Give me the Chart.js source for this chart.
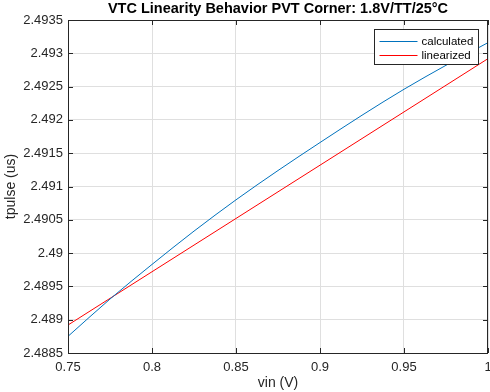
<!DOCTYPE html>
<html>
<head>
<meta charset="utf-8">
<title>VTC Linearity</title>
<script src="https://cdn.jsdelivr.net/npm/chart.js@4.4.1/dist/chart.umd.min.js"></script>
<style>
    html, body { margin: 0; padding: 0; background: #ffffff; }
    #chart { display: block; }
</style>
</head>
<body>
<canvas id="chart" width="490" height="392"></canvas>
<script>
// vin sweep (V) and the resulting pulse width (us)
const vinValues = [0.75, 0.775, 0.8, 0.825, 0.85, 0.875, 0.9, 0.925, 0.95, 0.975, 1.0];
const calculatedValues = [2.48875, 2.48931, 2.48983, 2.49033, 2.49080, 2.49124, 2.49166, 2.49207, 2.49246, 2.49282, 2.49316];
const linearizedValues = [2.48892, 2.48932, 2.48972, 2.49012, 2.49052, 2.49092, 2.49132, 2.49172, 2.49212, 2.49252, 2.49292];
const seriesNames = ['calculated', 'linearized'];
const seriesColors = ['#0072BD', '#FF0000'];

const xTicks = [0.75, 0.8, 0.85, 0.9, 0.95, 1.0];
const yTicks = [2.4885, 2.489, 2.4895, 2.49, 2.4905, 2.491, 2.4915, 2.492, 2.4925, 2.493, 2.4935];

const axisColor = '#262626';
const gridColor = '#dfdfdf';
const fontFamily = '"Liberation Sans", Arial, Helvetica, sans-serif';

function toPoints(xs, ys) {
    return xs.map((x, i) => ({ x: x, y: ys[i] }));
}

// box around the axes with inward ticks on all four sides, then the legend
const matlabFrame = {
    id: 'matlabFrame',
    afterDatasetsDraw(chart) {
        const { ctx, chartArea: a, scales } = chart;
        const len = 5;
        ctx.save();
        ctx.strokeStyle = axisColor;
        ctx.lineWidth = 1;
        ctx.beginPath();
        ctx.rect(Math.round(a.left) + 0.5, Math.round(a.top) + 0.5,
                 Math.round(a.right - a.left) - 1, Math.round(a.bottom - a.top));
        xTicks.forEach(v => {
            const px = Math.round(scales.x.getPixelForValue(v)) + 0.5;
            ctx.moveTo(px, a.bottom); ctx.lineTo(px, a.bottom - len);
            ctx.moveTo(px, a.top); ctx.lineTo(px, a.top + len);
        });
        yTicks.forEach(v => {
            const py = Math.round(scales.y.getPixelForValue(v)) + 0.5;
            ctx.moveTo(a.left, py); ctx.lineTo(a.left + len, py);
            ctx.moveTo(a.right, py); ctx.lineTo(a.right - len, py);
        });
        ctx.stroke();

        // legend box, upper right inside the axes
        const boxW = 104, boxH = 35;
        const bx = Math.round(a.right) - 10 - boxW + 0.5;
        const by = Math.round(a.top) + 9 + 0.5;
        ctx.fillStyle = '#ffffff';
        ctx.fillRect(bx, by, boxW, boxH);
        ctx.strokeStyle = axisColor;
        ctx.strokeRect(bx, by, boxW, boxH);
        ctx.font = '11.5px ' + fontFamily;
        ctx.textBaseline = 'middle';
        ctx.textAlign = 'left';
        chart.data.datasets.forEach((ds, i) => {
            const rowY = Math.round(by + 11 + i * 14.5) + 0.5;
            ctx.strokeStyle = ds.borderColor;
            ctx.beginPath();
            ctx.moveTo(bx + 5, rowY);
            ctx.lineTo(bx + 43, rowY);
            ctx.stroke();
            ctx.fillStyle = '#000000';
            ctx.fillText(ds.label, bx + 47, rowY);
        });
        ctx.restore();
    }
};

const ctx = document.getElementById('chart').getContext('2d');
const chart = new Chart(ctx, {
    type: 'line',
    data: {
        datasets: [
            {
                label: seriesNames[0],
                data: toPoints(vinValues, calculatedValues),
                borderColor: seriesColors[0],
                borderWidth: 1,
                pointRadius: 0,
                cubicInterpolationMode: 'monotone',
                fill: false
            },
            {
                label: seriesNames[1],
                data: toPoints(vinValues, linearizedValues),
                borderColor: seriesColors[1],
                borderWidth: 1,
                pointRadius: 0,
                fill: false
            }
        ]
    },
    options: {
        responsive: false,
        animation: false,
        layout: { padding: { left: 0, right: 2, top: 0, bottom: 0 } },
        plugins: {
            legend: { display: false },
            tooltip: { enabled: false },
            title: { display: false }
        },
        scales: {
            // top axis only carries the title so it centres over the plot area
            top: {
                type: 'linear',
                position: 'top',
                min: 0.75,
                max: 1.0,
                afterFit: scale => {
                    scale.height = 20;
                    scale.paddingLeft = 0;
                    scale.paddingRight = 0;
                },
                grid: { display: false, drawTicks: false },
                border: { display: false },
                ticks: { display: false },
                title: {
                    display: true,
                    text: 'VTC Linearity Behavior PVT Corner: 1.8V/TT/25°C',
                    color: '#000000',
                    font: { family: fontFamily, size: 14.5, weight: 'bold' },
                    padding: { top: 0, bottom: 0 }
                }
            },
            x: {
                type: 'linear',
                min: 0.75,
                max: 1.0,
                afterBuildTicks: scale => { scale.ticks = xTicks.map(v => ({ value: v })); },
                afterFit: scale => {
                    scale.height = 39;
                    scale.paddingLeft = 0;
                    scale.paddingRight = 0;
                },
                grid: { color: gridColor, drawTicks: false },
                border: { display: false },
                ticks: {
                    color: axisColor,
                    padding: 7,
                    maxRotation: 0,
                    font: { family: fontFamily, size: 13 },
                    callback: v => String(Number(v.toFixed(2)))
                },
                title: {
                    display: true,
                    text: 'vin (V)',
                    color: axisColor,
                    font: { family: fontFamily, size: 14 },
                    padding: { top: 0, bottom: 0 }
                }
            },
            y: {
                type: 'linear',
                min: 2.4885,
                max: 2.4935,
                afterBuildTicks: scale => { scale.ticks = yTicks.map(v => ({ value: v })); },
                afterFit: scale => {
                    scale.width = 68;
                    scale.paddingTop = 0;
                    scale.paddingBottom = 0;
                },
                grid: { color: gridColor, drawTicks: false },
                border: { display: false },
                ticks: {
                    color: axisColor,
                    padding: 5,
                    font: { family: fontFamily, size: 13 },
                    callback: v => String(Number(v.toFixed(4)))
                },
                title: {
                    display: true,
                    text: 'tpulse (us)',
                    color: axisColor,
                    font: { family: fontFamily, size: 14 },
                    padding: { top: 3, bottom: 0 }
                }
            }
        }
    },
    plugins: [matlabFrame]
});
</script>
</body>
</html>
